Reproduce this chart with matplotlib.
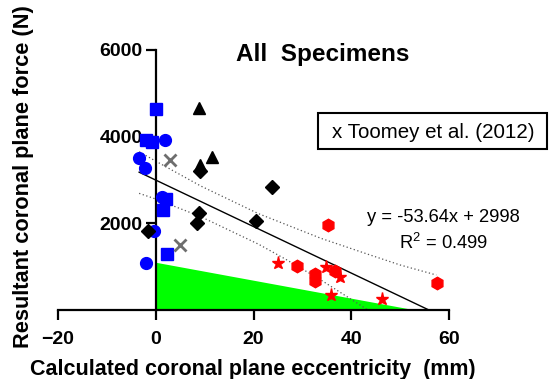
import numpy as np
import matplotlib
matplotlib.use('Agg')
import matplotlib.pyplot as plt
from matplotlib.patches import Rectangle

plt.rcParams['font.family'] = ['Liberation Sans', 'DejaVu Sans']
plt.rcParams['mathtext.fontset'] = 'custom'
plt.rcParams['mathtext.rm'] = 'Liberation Sans'
plt.rcParams['mathtext.default'] = 'regular'

# data
blue_sq_x = [0.0, -1.9, -0.7, 2.0, 1.5, 2.4]
blue_sq_y = [4640, 3920, 3880, 2560, 2300, 1290]
blue_ci_x = [1.9, -3.4, -2.2, 1.2, -0.35, -1.9]
blue_ci_y = [3920, 3500, 3285, 2615, 1820, 1077]
tri_x = [8.9, 11.6, 9.0]
tri_y = [4654, 3540, 3346]
dia_x = [9.0, 8.75, 8.5, -1.6, 23.7, 20.5]
dia_y = [3215, 2230, 2000, 1830, 2830, 2054]
toomey_x = [2.9, 4.9]
toomey_y = [3460, 1500]
hex_x = [35.2, 57.5, 29.0, 32.6, 32.6, 36.6]
hex_y = [1960, 615, 1015, 830, 670, 890]
star_x = [25.1, 34.8, 37.7, 35.9, 46.3]
star_y = [1077, 1000, 770, 346, 254]

slope = -53.64
intercept = 2998
fit_x = np.array([-3.4, 55.9])

upper_x = [-3.4, 0, 9.2, 21, 33.8, 43.4, 50, 57.4]
upper_y = [3653, 3435, 2862, 2224, 1654, 1287, 1039, 808]
lower_x = [-3.4, 0, 9.2, 21, 26.6, 33.8, 43.4]
lower_y = [2692, 2561, 2154, 1520, 1170, 692, 0]

green_x = [0, 0, 52.7]
green_y = [0, 1092, 0]

fig = plt.figure(figsize=(5.5, 3.79), dpi=100)
ax = fig.add_axes([58/550, 1-310/379, (449-58)/550, 260/379])

ax.fill(green_x, green_y, color='#00ff00', lw=0, zorder=1)

ax.plot(fit_x, slope*fit_x + intercept, color='black', lw=1.0, zorder=2)
ax.plot(upper_x, upper_y, color='#555555', lw=0.9, ls=(0, (1, 2)), zorder=2)
ax.plot(lower_x, lower_y, color='#555555', lw=0.9, ls=(0, (1, 2)), zorder=2)

ms = 8
ax.plot(blue_sq_x, blue_sq_y, 's', color='#0000ff', ms=ms, zorder=3, clip_on=False)
ax.plot(blue_ci_x, blue_ci_y, 'o', color='#0000ff', ms=ms+0.5, zorder=3, clip_on=False)
ax.plot(tri_x, tri_y, '^', color='black', ms=ms+0.5, zorder=3, clip_on=False)
ax.plot(dia_x, dia_y, 'D', color='black', ms=ms-1, zorder=3, clip_on=False)
ax.plot(toomey_x, toomey_y, 'x', color='#6e6e6e', ms=ms+1, mew=2, zorder=3, clip_on=False)
ax.plot(hex_x, hex_y, 'h', color='#ff0000', ms=ms+1, zorder=3, clip_on=False)
ax.plot(star_x, star_y, '*', color='#ff0000', ms=ms+1.5, zorder=3, clip_on=False)

ax.set_xlim(-20, 60)
ax.set_ylim(0, 6000)
ax.set_xticks([-20, 0, 20, 40, 60])
ax.set_yticks([2000, 4000, 6000])
ax.spines['top'].set_visible(False)
ax.spines['right'].set_visible(False)
ax.spines['left'].set_position(('data', 0))
for s in ['left', 'bottom']:
    ax.spines[s].set_linewidth(1.6)
ax.tick_params(width=1.6, length=7.5, labelsize=14)
ax.tick_params(axis='x', pad=7.5)
ax.tick_params(axis='y', pad=2)
for lab in ax.get_xticklabels() + ax.get_yticklabels():
    lab.set_fontweight('bold')

fig.text(0.587, 1-61/379, 'All  Specimens', fontsize=17.5, fontweight='bold', ha='center', va='baseline')
fig.text(253/550, 1-375/379, 'Calculated coronal plane eccentricity  (mm)', fontsize=15.5,
         fontweight='bold', ha='center', va='baseline')
fig.text(24/550, 1-177/379, 'Resultant coronal plane force (N)', fontsize=15.7,
         fontweight='bold', ha='center', va='center', rotation=90)

fig.patches.append(Rectangle((318/550, 1-149/379), 229/550, 36/379, transform=fig.transFigure,
                             fill=False, ec='black', lw=1.5))
fig.text(332/550, 1-138.5/379, 'x Toomey et al. (2012)', fontsize=14.8, ha='left', va='baseline')

fig.text(443.5/550, 1-218/379, 'y = -53.64x + 2998', fontsize=13.2, ha='center', va='center')
fig.text(443.5/550, 1-243/379, 'R$^2$ = 0.499', fontsize=13.2, ha='center', va='center')

fig.savefig('out.png', dpi=100)
